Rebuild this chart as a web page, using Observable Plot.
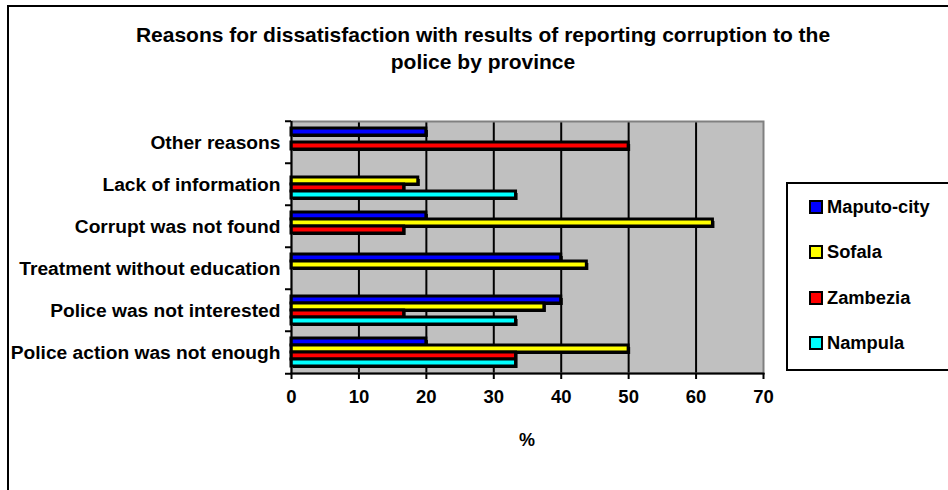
<!DOCTYPE html>
<html><head><meta charset="utf-8">
<script src="https://cdn.jsdelivr.net/npm/d3@7"></script>
<script src="https://cdn.jsdelivr.net/npm/@observablehq/plot@0.6"></script>
<style>
body{margin:0;background:#fff;font-family:"Liberation Sans",Arial,sans-serif;}
#wrap{position:relative;width:948px;height:490px;overflow:hidden;background:#fff;}
#wrap svg{position:absolute;left:0;top:0;}
#border{position:absolute;left:7px;top:5px;width:1000px;height:600px;border:2px solid #000;pointer-events:none;}
#title{position:absolute;left:0;width:966px;top:21px;text-align:center;font-weight:bold;font-size:21px;line-height:27px;}
#xlabel{position:absolute;left:477px;width:100px;top:430px;text-align:center;font-weight:bold;font-size:18px;line-height:20px;}
#legend{position:absolute;left:786px;top:182px;width:200px;height:185px;border:2px solid #000;background:#fff;}
.item{position:absolute;left:21px;height:20px;display:flex;align-items:center;font-weight:bold;font-size:18.3px;}
.sw{width:10px;height:10px;border:2px solid #000;margin-right:4px;}
</style></head>
<body>
<div id="wrap">
  <div id="chart"></div>
  <div id="border"></div>
  <div id="title">Reasons for dissatisfaction with results of reporting corruption to the<br>police by province</div>
  <div id="xlabel">%</div>
  <div id="legend"></div>
</div>
<script>
const categories = ["Other reasons", "Lack of information", "Corrupt was not found", "Treatment without education", "Police was not interested", "Police action was not enough"];
const provinces = ["Maputo-city", "Sofala", "Zambezia", "Nampula"];
const colors = ["#0000ff", "#ffff00", "#ff0000", "#00ffff"];
const maputo   = [20,   null, 20,   40,   40,   20];
const sofala   = [null, 18.8, 62.5, 43.8, 37.5, 50];
const zambezia = [50,   16.7, 16.7, null, 16.7, 33.3];
const nampula  = [null, 33.3, null, null, 33.3, 33.3];
const xTicks = [0, 10, 20, 30, 40, 50, 60, 70];

const series = [maputo, sofala, zambezia, nampula];
const records = [];
categories.forEach((c, i) => series.forEach((s, j) => {
  if (s[i] != null) records.push({category: c, province: provinces[j], value: s[i]});
}));

const W = 948, H = 490, mT = 119, mB = 116, mL = 291, mR = 185;
const bandH = (H - mT - mB) / categories.length;
const font = '"Liberation Sans", Arial, sans-serif';

const plot = Plot.plot({
  width: W, height: H,
  marginTop: mT, marginBottom: mB, marginLeft: mL, marginRight: mR,
  style: {fontFamily: font, fontWeight: "bold", fontSize: "18px", color: "#000", background: "transparent"},
  x: {domain: [0, 70], ticks: xTicks, label: null},
  fy: {domain: categories, padding: 0, label: null},
  y: {domain: provinces, paddingInner: 0, paddingOuter: 0.656, axis: null},
  color: {domain: provinces, range: colors},
  marks: [
    Plot.frame({fill: "#c0c0c0", facet: "super"}),
    Plot.ruleX(xTicks.slice(1, -1), {stroke: "#000", strokeWidth: 2}),
    Plot.frame({facet: "super", stroke: "#808080", strokeWidth: 2}),
    Plot.barX(records, {fy: "category", y: "province", x: "value", fill: "#000", dx: 2, dy: 2}),
    Plot.barX(records, {fy: "category", y: "province", x: "value", fill: "province", stroke: "#000", strokeWidth: 3}),
    Plot.ruleX([0], {stroke: "#000", strokeWidth: 2}),
    Plot.frame({facet: "super", anchor: "bottom", stroke: "#000", strokeWidth: 2}),
    Plot.axisX({ticks: xTicks, tickSize: 6, tickPadding: 10, strokeWidth: 2, fontSize: 18.5, label: null}),
    Plot.axisFy({anchor: "left", tickSize: 0, tickPadding: 11, fontSize: 19.2, label: null}),
    Plot.axisFy({anchor: "left", text: null, tickSize: 6, strokeWidth: 2, dy: -bandH / 2, label: null}),
    Plot.axisFy({anchor: "left", ticks: [categories[categories.length - 1]], text: null, tickSize: 6, strokeWidth: 2, dy: bandH / 2, label: null})
  ]
});
document.getElementById("chart").appendChild(plot);

const legend = document.getElementById("legend");
provinces.forEach((p, i) => {
  const it = document.createElement("div");
  it.className = "item";
  it.style.top = (13 + i * 45.3) + "px";
  const sw = document.createElement("div");
  sw.className = "sw";
  sw.style.background = colors[i];
  it.appendChild(sw);
  it.appendChild(document.createTextNode(p));
  legend.appendChild(it);
});
</script>
</body></html>
